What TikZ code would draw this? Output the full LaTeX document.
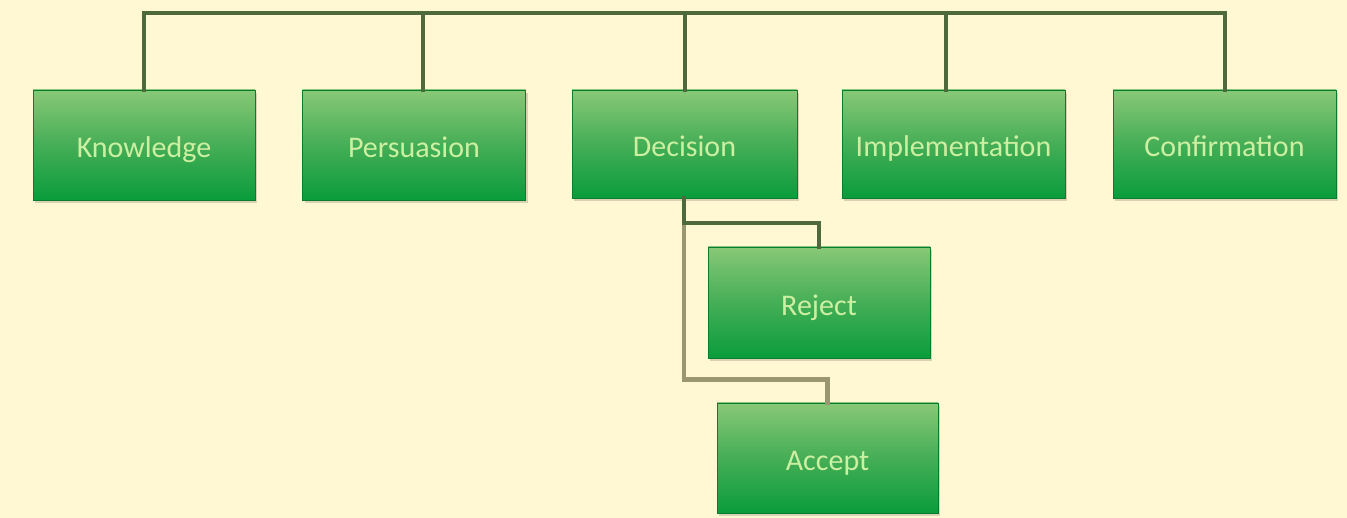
\documentclass[tikz,border=0pt]{standalone}
\usepackage{fontspec}
\setmainfont{Carlito}
\usetikzlibrary{calc,shadows}
\definecolor{bgc}{HTML}{FFF8D2}
\definecolor{btop}{HTML}{88C877}
\definecolor{bmid}{HTML}{45AE56}
\definecolor{bbot}{HTML}{0A9C3C}
\definecolor{txt}{HTML}{CDEFA2}
\definecolor{lnc}{HTML}{4E6A3C}
\definecolor{lnc2}{HTML}{9A9670}
\tikzset{
  box/.style={rectangle, minimum width=222pt, minimum height=110pt, inner sep=0pt,
    top color=btop, bottom color=bbot, middle color=bmid,
    draw=bbot!80!black, line width=0.6pt,
    drop shadow={shadow xshift=2pt, shadow yshift=-3pt, fill=black!25!bgc, opacity=0.6},
    text=txt, font=\fontsize{30}{32}\selectfont, text depth=0pt, text height=26pt},
  conn/.style={draw=lnc, line width=4pt, line cap=rect},
  conn2/.style={draw=lnc2, line width=4.5pt, line cap=rect}
}
\begin{document}
\begin{tikzpicture}[x=1pt,y=-1pt]
\fill[bgc] (0,0) rectangle (1347,518);
\useasboundingbox (0,0) rectangle (1347,518);
\coordinate (bus) at (0,13);
\node[box] (k) at (144,145) {Knowledge};
\node[box, minimum width=223pt] (p) at (414,145) {Persuasion};
\node[box, minimum width=225pt, minimum height=108pt] (d) at (684.5,144) {Decision};
\node[box, minimum width=223pt, minimum height=108pt] (i) at (953.5,144) {Implementation};
\node[box, minimum width=223pt, minimum height=108pt] (c) at (1224.5,144) {Confirmation};
\node[box, minimum height=111pt] (r) at (819,302.5) {Reject};
\node[box, minimum width=221pt] (a) at (827.5,458) {Accept};
\draw[conn] (k.north) -- (k.north |- bus) -- (c.north |- bus) -- (c.north);
\draw[conn] ([xshift=9pt]p.north) -- ([xshift=9pt]p.north |- bus);
\draw[conn] (d.north) -- (d.north |- bus);
\draw[conn] ([xshift=-8pt]i.north) -- ([xshift=-8pt]i.north |- bus);
\draw[conn2] ([xshift=-0.5pt]d.south) |- ([yshift=23pt]a.north) -- (a.north);
\draw[conn] ([xshift=-0.5pt]d.south) |- ([yshift=24pt]r.north) -- (r.north);
\draw[conn] ([xshift=-0.5pt]d.south) -- ++(0,25);
\end{tikzpicture}
\end{document}
